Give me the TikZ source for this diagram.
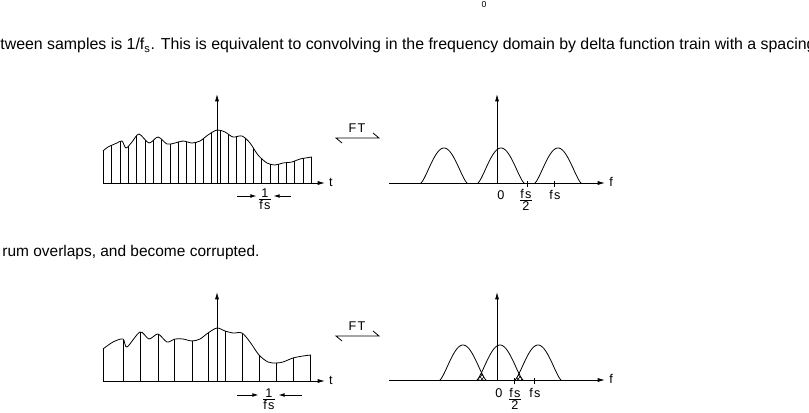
\documentclass[tikz,border=0pt]{standalone}
\usepackage{fontspec}
\setmainfont{Liberation Sans}
\newfontfamily\lblfont[LetterSpace=10]{Liberation Sans}
\usetikzlibrary{arrows.meta,patterns,calc}

\tikzset{
    axis/.style={-{Latex[length=5.5pt,width=3pt]}},
    gap/.style={-{Latex[length=4.5pt,width=2.8pt]}},
    lbl/.style={font=\lblfont\fontsize{9.5}{11}\selectfont, inner sep=0pt},
    prose/.style={font=\fontsize{11.6}{14}\selectfont, inner sep=0pt, anchor=base west},
}
% one replica of the spectrum, centred at #1 on the axis at height #2
\newcommand{\specbump}[2]{plot[domain=-1:1, samples=41, smooth] ({#1+23*\x},{#2-35*pow(abs(cos(90*\x)),1.3)})}

\begin{document}
\begin{tikzpicture}[x=0.75pt, y=-0.75pt, line width=0.6pt]
    \clip (0,0) rectangle (809,413);

    \node[lbl, font=\fontsize{6.5}{8}\selectfont] (zero) at (484,5) {0};
    \node[prose, font=\fontsize{11.92}{14}\selectfont] (txtA) at (0,50) {tween samples is 1/f\textsubscript{s}. This is equivalent to convolving in the frequency domain by delta function train with a spacing};
    \node[prose] (txtB) at (2,256) {rum overlaps, and become corrupted.};

    % --- sampled at fs ---
    \begin{scope}
        \clip (103,183) -- plot[smooth, tension=0.5] coordinates {(103,151) (108,147) (117,143) (122,141) (126,148) (132,142) (139,134) (149,143) (158,137) (167,144) (175,143) (183,141) (192,143) (200,141) (208,135) (217,130) (225,132) (233,137) (242,136) (250,143) (258,155) (267,163) (275,165) (283,163) (292,162) (300,159) (312,157)} -- (312,183) -- cycle;
        \foreach \k in {0,...,25}
            \draw ({103.5+8.32*\k},183) -- ++(0,-70);
    \end{scope}
    \draw plot[smooth, tension=0.5] coordinates {(103,151) (108,147) (117,143) (122,141) (126,148) (132,142) (139,134) (149,143) (158,137) (167,144) (175,143) (183,141) (192,143) (200,141) (208,135) (217,130) (225,132) (233,137) (242,136) (250,143) (258,155) (267,163) (275,165) (283,163) (292,162) (300,159) (312,157)};
    \coordinate (tA0) at (103,183);
    \coordinate (tA1) at (325,183);
    \coordinate (oA) at (217,183);
    \draw[axis] (tA0) -- (tA1);
    \draw[axis] (oA) -- ++(0,-89);
    \node[lbl] (tA) at (331,182) {t};

    \node[lbl] (perA) at (265,199) {$\frac{\mbox{1}}{\mbox{fs}}$};
    \coordinate (pA1) at (237,196);
    \coordinate (pA2) at (291,196);
    \draw[gap] (pA1) -- ($(pA1 -| perA.west)+(-1,0)$);
    \draw[gap] (pA2) -- ($(pA2 -| perA.east)+(1,0)$);

    \node[lbl] (ftA) at (357,128) {FT};
    \coordinate (ftA1) at (336,138);
    \coordinate (ftA2) at (379,138);
    \draw ($(ftA1)+(6,5)$) -- (ftA1) -- (ftA2) -- ++(-6,-5);

    \coordinate (fA0) at (389,183);
    \coordinate (fA1) at (605,183);
    \coordinate (sA) at (497,183);
    \draw[axis] (fA0) -- (fA1);
    \draw[axis] (sA) -- ++(0,-89);
    \node[lbl] (fA) at (611,182) {f};
    \draw \specbump{444}{183};
    \draw \specbump{501}{183};
    \draw \specbump{558}{183};
    \draw (527,181) -- (527,187);
    \draw (554,181) -- (554,187);
    \node[lbl] (zA) at (501,195) {0};
    \node[lbl] (hA) at (526,200) {$\frac{\mbox{fs}}{\mbox{2}}$};
    \node[lbl] (fsA) at (555,195) {fs};

    % --- sampled at fs/2 ---
    \begin{scope}
        \clip (103,381) -- plot[smooth, tension=0.5] coordinates {(103,349) (113,342) (123,339) (127,347) (140,332) (149,339) (158,334) (167,342) (175,339) (183,339) (192,341) (200,339) (208,333) (217,328) (225,331) (233,333) (242,333) (250,342) (259,355) (268,362) (276,363) (283,362) (293,358) (303,356) (311,355)} -- (311,381) -- cycle;
        \foreach \s in {103.5,123,140,158,174.5,192,208.5,225,242,259,276,293,310.5}
            \draw (\s,381) -- ++(0,-70);
    \end{scope}
    \draw plot[smooth, tension=0.5] coordinates {(103,349) (113,342) (123,339) (127,347) (140,332) (149,339) (158,334) (167,342) (175,339) (183,339) (192,341) (200,339) (208,333) (217,328) (225,331) (233,333) (242,333) (250,342) (259,355) (268,362) (276,363) (283,362) (293,358) (303,356) (311,355)};
    \coordinate (tB0) at (103,381);
    \coordinate (tB1) at (325,381);
    \coordinate (oB) at (217,381);
    \draw[axis] (tB0) -- (tB1);
    \draw[axis] (oB) -- ++(0,-89);
    \node[lbl] (tB) at (331,380) {t};

    \node[lbl] (perB) at (269,399) {$\frac{\mbox{1}}{\mbox{fs}}$};
    \coordinate (pB1) at (237,395);
    \coordinate (pB2) at (302,395);
    \draw[gap] (pB1) -- ($(pB1 -| perB.west)+(-3,0)$);
    \draw[gap] (pB2) -- ($(pB2 -| perB.east)+(2,0)$);

    \node[lbl] (ftB) at (357,326) {FT};
    \coordinate (ftB1) at (336,336);
    \coordinate (ftB2) at (379,336);
    \draw ($(ftB1)+(6,5)$) -- (ftB1) -- (ftB2) -- ++(-6,-5);

    \coordinate (fB0) at (389,380);
    \coordinate (fB1) at (605,380);
    \coordinate (sB) at (497,380);
    \draw[axis] (fB0) -- (fB1);
    \draw[axis] (sB) -- ++(0,-88);
    \node[lbl] (fB) at (611,379) {f};
    \begin{scope}
        \clip \specbump{463}{380} -- cycle;
        \fill[pattern=crosshatch] \specbump{500}{380} -- cycle;
    \end{scope}
    \begin{scope}
        \clip \specbump{500}{380} -- cycle;
        \fill[pattern=crosshatch] \specbump{538}{380} -- cycle;
    \end{scope}
    \draw \specbump{463}{380};
    \draw \specbump{500}{380};
    \draw \specbump{538}{380};
    \draw (514,378) -- (514,384);
    \draw (534,378) -- (534,384);
    \node[lbl] (zB) at (499,393) {0};
    \node[lbl] (hB) at (515,399) {$\frac{\mbox{fs}}{\mbox{2}}$};
    \node[lbl] (fsB) at (535,393) {fs};
\end{tikzpicture}
\end{document}
